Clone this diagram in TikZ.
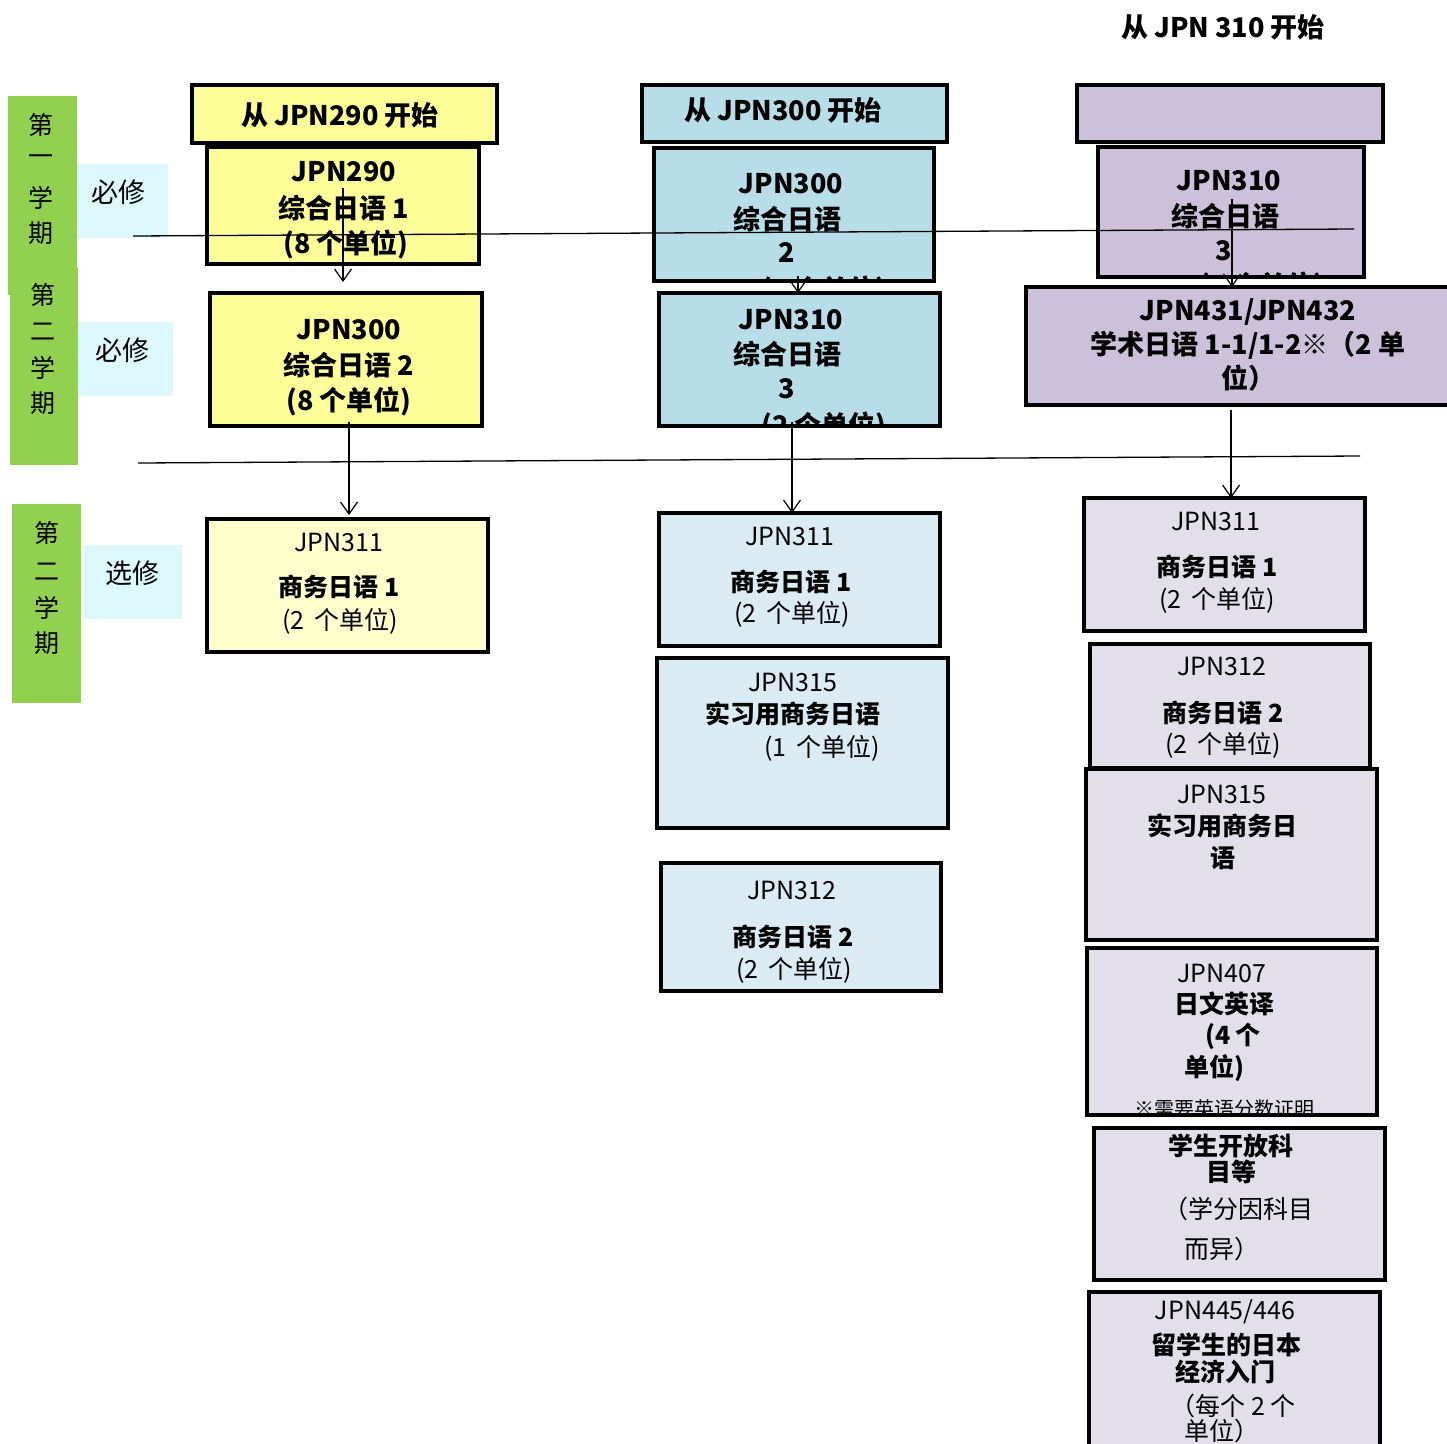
\documentclass[tikz,border=0pt]{standalone}
\usepackage{fontspec}
\setmainfont{Noto Sans CJK SC}
\usetikzlibrary{arrows.meta}
\definecolor{grn}{HTML}{92D050}
\definecolor{cyn}{HTML}{DCF8FC}
\definecolor{yel}{HTML}{FFFF99}
\definecolor{pyel}{HTML}{FFFFCC}
\definecolor{blu}{HTML}{B7DDE8}
\definecolor{lblu}{HTML}{DAEBF3}
\definecolor{pur}{HTML}{CCC0DA}
\definecolor{lpur}{HTML}{E2DFEB}
\newcommand\mybox[6]{\node[#2, minimum width={#5-#3-4}, minimum height={#6-#4-4}] (#1) at ({(#3+#5)/2},{(#4+#6)/2}) {};}
\newcommand\mypatch[6]{\node[#2, minimum width={#5-#3}, minimum height={#6-#4}] (#1) at ({(#3+#5)/2},{(#4+#6)/2}) {};}
\tikzset{
  bx/.style={draw=black, line width=4pt, rectangle, inner sep=0pt, outer sep=0pt},
  patch/.style={rectangle, inner sep=0pt, outer sep=0pt},
  tr/.style={inner sep=0pt, font=\fontsize{27}{30}\selectfont},
  tb/.style={inner sep=0pt, font=\fontsize{27}{30}\selectfont\bfseries},
  sr/.style={inner sep=0pt, font=\fontsize{25}{30}\selectfont},
  sb/.style={inner sep=0pt, font=\fontsize{25}{30}\selectfont\bfseries},
  side/.style={inner sep=0pt, font=\fontsize{25}{30}\selectfont},
  note/.style={inner sep=0pt, font=\fontsize{20}{24}\selectfont},
  arr/.style={line width=1.2pt, -{Straight Barb[length=12pt,width=17pt,line width=1.2pt]}},
  hl/.style={line width=1.3pt},
}
\begin{document}
\begin{tikzpicture}[x=1pt,y=-1pt]
\useasboundingbox (0,0) rectangle (1447,1443);
% ---------------- left labels
\mypatch{g1}{patch,fill=grn}{8}{96}{77}{295}
\mypatch{g2}{patch,fill=grn}{10}{267}{78}{465}
\mypatch{g3}{patch,fill=grn}{12}{504}{81}{703}
\node[side] (g1a) at (41,125) {第};
\node[side] (g1b) at (41,160) {一};
\node[side] (g1c) at (41,198) {学};
\node[side] (g1d) at (41,233) {期};
\node[side] (g2a) at (43,295) {第};
\node[side] (g2b) at (43,332) {二};
\node[side] (g2c) at (43,368) {学};
\node[side] (g2d) at (43,403) {期};
\node[side] (g3a) at (47,533) {第};
\node[side] (g3b) at (47,572) {二};
\node[side] (g3c) at (47,608) {学};
\node[side] (g3d) at (47,643) {期};
\mypatch{c1}{patch,fill=cyn}{77}{164}{168}{238}
\mypatch{c2}{patch,fill=cyn}{78}{322}{173}{396}
\mypatch{c3}{patch,fill=cyn}{84}{545}{182}{619}
\node[tr] (c1t) at (118,192) {必修};
\node[tr] (c2t) at (122,350) {必修};
\node[tr] (c3t) at (132,573) {选修};
% ---------------- yellow column
\mybox{y1}{bx,fill=yel}{205}{145}{481}{266}
\mybox{yh}{bx,fill=yel}{190}{83}{499}{145}
\node[tb] (yht) at (340,115) {从 JPN290 开始};
\node[tb] (y1a) at (344,172) {JPN290};
\node[tb] (y1b) at (344,208) {综合日语 1};
\node[tb] (y1c) at (346,244) {(8 个单位)};
\mybox{y2}{bx,fill=yel}{208}{291}{484}{428}
\node[tb] (y2a) at (349,330) {JPN300};
\node[tb] (y2b) at (349,365) {综合日语 2};
\node[tb] (y2c) at (349,401) {(8 个单位)};
\mybox{y3}{bx,fill=pyel}{205}{517}{490}{654}
\node[sr] (y3a) at (339,542) {JPN311};
\node[sb] (y3b) at (339,587) {商务日语 1};
\node[sr] (y3c) at (340,621) {(2\, 个单位)};
% ---------------- blue column
\mybox{b1}{bx,fill=blu}{652}{146}{936}{283}
\mybox{bh}{bx,fill=blu}{640}{83}{949}{144}
\node[tb] (bht) at (783,110) {从 JPN300 开始};
\node[tb] (b1a) at (791,184) {JPN300};
\node[tb] (b1b) at (787,219) {综合日语};
\node[tb] (b1c) at (787,253) {2};
\begin{scope}
\clip ([shift={(2,-2)}]b1.south west) rectangle ([shift={(-2,2)}]b1.north east);
\node[tb] (b1d) at (824,290) {(8 个单位)};
\end{scope}
\mybox{b2}{bx,fill=blu}{657}{291}{942}{428}
\node[tb] (b2a) at (791,320) {JPN310};
\node[tb] (b2b) at (787,354) {综合日语};
\node[tb] (b2c) at (787,389) {3};
\begin{scope}
\clip ([shift={(2,-2)}]b2.south west) rectangle ([shift={(-2,2)}]b2.north east);
\node[tb] (b2d) at (824,426) {(2 个单位)};
\end{scope}
\mybox{b3}{bx,fill=lblu}{657}{511}{942}{648}
\node[sr] (b3a) at (790,536) {JPN311};
\node[sb] (b3b) at (791,582) {商务日语 1};
\node[sr] (b3c) at (792,614) {(2\, 个单位)};
\mybox{b4}{bx,fill=lblu}{655}{656}{950}{830}
\node[sr] (b4a) at (793,682) {JPN315};
\node[sb] (b4b) at (793,714) {实习用商务日语};
\node[sr] (b4c) at (822,748) {(1\, 个单位)};
\mybox{b5}{bx,fill=lblu}{659}{861}{943}{993}
\node[sr] (b5a) at (792,890) {JPN312};
\node[sb] (b5b) at (793,937) {商务日语 2};
\node[sr] (b5c) at (794,970) {(2\, 个单位)};
% ---------------- purple column
\node[tb] (pt) at (1223,27) {从 JPN 310 开始};
\mybox{p1}{bx,fill=pur}{1096}{145}{1366}{279}
\mybox{ph}{bx,fill=pur}{1075}{83}{1385}{144}
\node[tb] (p1a) at (1229,181) {JPN310};
\node[tb] (p1b) at (1225,216) {综合日语};
\node[tb] (p1c) at (1224,251) {3};
\begin{scope}
\clip ([shift={(2,-2)}]p1.south west) rectangle ([shift={(-2,2)}]p1.north east);
\node[tb] (p1d) at (1262,286) {(8 个单位)};
\end{scope}
\mybox{p2}{bx,fill=pur}{1024}{285}{1470}{407}
\node[tb] (p2a) at (1248,312) {JPN431/JPN432};
\node[tb] (p2b) at (1248,345) {学术日语 1-1/1-2※（2 单};
\node[tb] (p2c) at (1248,378) {位）};
\mybox{p3}{bx,fill=lpur}{1082}{496}{1367}{633}
\node[sr] (p3a) at (1216,521) {JPN311};
\node[sb] (p3b) at (1217,567) {商务日语 1};
\node[sr] (p3c) at (1217,600) {(2\, 个单位)};
\mybox{p4}{bx,fill=lpur}{1088}{642}{1372}{770}
\node[sr] (p4a) at (1222,666) {JPN312};
\node[sb] (p4b) at (1223,713) {商务日语 2};
\node[sr] (p4c) at (1223,745) {(2\, 个单位)};
\mybox{p5}{bx,fill=lpur}{1084}{767}{1379}{942}
\node[sr] (p5a) at (1222,794) {JPN315};
\node[sb] (p5b) at (1222,826) {实习用商务日};
\node[sb] (p5c) at (1223,858) {语};
\mybox{p6}{bx,fill=lpur}{1085}{946}{1379}{1117}
\node[sr] (p6a) at (1222,973) {JPN407};
\node[sb] (p6b) at (1224,1004) {日文英译};
\node[sb] (p6c) at (1233,1036) {(4 个};
\node[sb] (p6d) at (1214,1068) {单位)};
\begin{scope}
\clip ([shift={(2,-2)}]p6.south west) rectangle ([shift={(-2,2)}]p6.north east);
\node[note] (p6e) at (1224,1109) {※需要英语分数证明};
\end{scope}
\mybox{p7}{bx,fill=lpur}{1092}{1126}{1387}{1282}
\node[sb] (p7a) at (1231,1146) {学生开放科};
\node[sb] (p7b) at (1231,1172) {目等};
\node[sr] (p7c) at (1238,1209) {（学分因科目};
\node[sr] (p7d) at (1222,1249) {而异）};
\mybox{p8}{bx,fill=lpur}{1087}{1290}{1382}{1470}
\node[sr] (p8a) at (1225,1312) {JPN445/446};
\node[sb] (p8b) at (1226,1345) {留学生的日本};
\node[sb] (p8c) at (1225,1372) {经济入门};
\node[sr] (p8d) at (1233,1406) {（每个 2 个};
\node[sr] (p8e) at (1222,1431) {单位）};
% ---------------- connectors
\coordinate (ya1) at (343,188);
\coordinate (ya2) at (349,422);
\coordinate (ba1) at (798,276);
\coordinate (ba2) at (792,422);
\coordinate (pa1) at (1232,199);
\coordinate (pa2) at (1231,410);
\draw[arr, shorten >=11pt] (ya1) -- (ya1 |- y2.north);
\draw[arr, shorten >=4pt] (ya2) -- (ya2 |- y3.north);
\draw[arr] (ba1) -- (ba1 |- b2.north);
\draw[arr] (ba2) -- (ba2 |- b3.north);
\draw[arr] (pa1) -- (pa1 |- p2.north);
\draw[arr] (pa2) -- (pa2 |- p3.north);
% ---------------- semester dividers
\coordinate (h1a) at (133,236);
\coordinate (h1b) at (1354,229);
\coordinate (h2a) at (138,463);
\coordinate (h2b) at (1360,456);
\draw[hl] (h1a) -- (h1b);
\draw[hl] (h2a) -- (h2b);
\end{tikzpicture}
\end{document}
